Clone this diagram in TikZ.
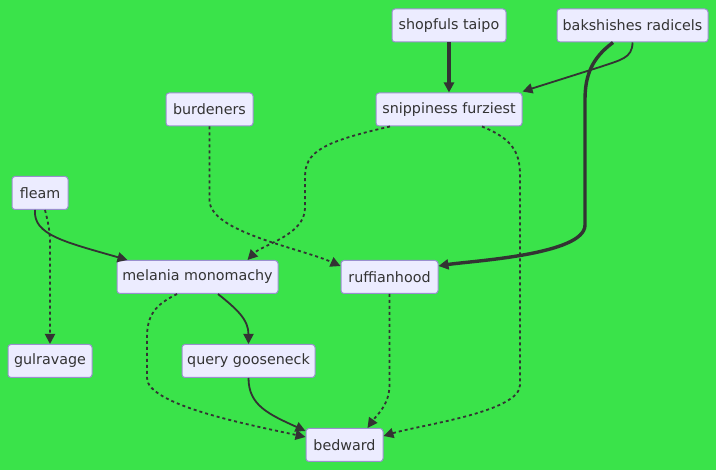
\documentclass[tikz,border=0pt]{standalone}
\usepackage{fontspec}
\setmainfont{DejaVu Sans}
\usetikzlibrary{arrows.meta,calc}
\definecolor{bg}{RGB}{58,227,74}
\definecolor{nodefill}{HTML}{ECECFF}
\definecolor{nodeline}{HTML}{9A8FCF}
\definecolor{ink}{HTML}{333333}
\begin{document}
\begin{tikzpicture}[x=1pt,y=-1pt,
  box/.style={draw=nodeline,fill=nodefill,line width=1pt,rounded corners=3pt,
    text=ink,font=\fontsize{14.3}{16}\selectfont,inner sep=0pt,minimum height=33pt},
  edge/.style={draw=ink,line width=1.8pt,-{Triangle[length=10pt,width=10pt]}},
  thickedge/.style={draw=ink,line width=3.4pt,-{Triangle[length=10pt,width=10pt]}},
  dottededge/.style={draw=ink,line width=1.8pt,dash pattern=on 3pt off 3pt,-{Triangle[length=10pt,width=10pt]}}]
\useasboundingbox[fill=bg] (0,0) rectangle (716,470);
\node[box,minimum width=114pt] (shop) at (449,25.5) {shopfuls taipo};
\node[box,minimum width=151pt] (bak) at (632.5,25.5) {bakshishes radicels};
\node[box,minimum width=87pt] (burd) at (209.5,109.5) {burdeners};
\node[box,minimum width=146pt] (snip) at (449,109.5) {snippiness furziest};
\node[box,minimum width=56pt] (fleam) at (40,193) {fleam};
\node[box,minimum width=161pt] (mel) at (197.5,277) {melania monomachy};
\node[box,minimum width=97pt] (ruff) at (389.5,277) {ruffianhood};
\node[box,minimum width=84pt] (gul) at (50,361) {gulravage};
\node[box,minimum width=133pt] (query) at (248.5,361) {query gooseneck};
\node[box,minimum width=77pt] (bed) at (344.5,445) {bedward};

% shopfuls -> snippiness
\draw[thickedge] (shop.south) -- (snip.north);
% bakshishes -> snippiness
\draw[edge] (bak.south) .. controls ($(bak.south)+(0,16)$) and (620,60) .. (600,67) -- ($(snip.north east)+(0,-1)$);
% bakshishes -> ruffianhood
\draw[thickedge] ($(bak.south)+(-19.5,0)$) .. controls (592,58) and (585,75) .. (585,100) -- (585,225)
  .. controls (585,255) and (470,261) .. ($(ruff.north east)+(0,6)$);
% burdeners -> ruffianhood
\draw[dottededge] (burd.south) -- (209.5,200) .. controls (209.5,232) and (300,248) .. ($(ruff.north west)+(0,6)$);
% snippiness -> melania
\draw[dottededge] ($(snip.south)+(-59,0)$) .. controls (322,142) and (305,152) .. (305,177) -- (305,208)
  .. controls (305,235) and (262,245) .. ($(mel.north)+(50,0)$);
% snippiness -> bedward
\draw[dottededge] ($(snip.south)+(33,0)$) .. controls (510,138) and (520,150) .. (520,175) -- (520,385)
  .. controls (520,412) and (420,425) .. ($(bed.north east)+(0,8)$);
% fleam -> melania
\draw[edge] ($(fleam.south)+(-5,0)$) .. controls (33,235) and (65,242) .. ($(mel.north west)+(11,0)$);
% fleam -> gulravage
\draw[dottededge] ($(fleam.south)+(5,0)$) .. controls (48,222) and (50,230) .. (50,245) -- (gul.north);
% melania -> query
\draw[edge] ($(mel.south)+(20.5,0)$) .. controls (238,310) and (248.5,320) .. (query.north);
% melania -> bedward
\draw[dottededge] ($(mel.south)+(-20.5,0)$) .. controls (155,305) and (147,315) .. (147,338) -- (147,378)
  .. controls (147,405) and (250,425) .. ($(bed.north west)+(0,9)$);
% ruffianhood -> bedward
\draw[dottededge] (ruff.south) -- (389.5,385) .. controls (389.5,405) and (376,416) .. ($(bed.north)+(23,0)$);
% query -> bedward
\draw[edge] (query.south) .. controls (248.5,405) and (268,414) .. ($(bed.north west)+(0,3)$);
\end{tikzpicture}
\end{document}
